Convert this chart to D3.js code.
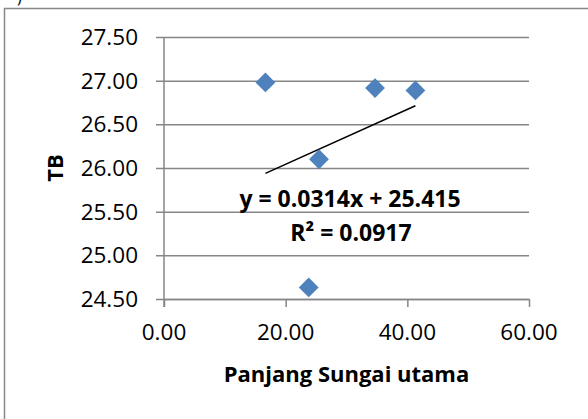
<!DOCTYPE html>
<html>
<head>
<meta charset="utf-8">
<script src="https://cdn.jsdelivr.net/npm/d3@7"></script>
<style>
  body { margin: 0; background: #fff; }
  svg { display: block; font-family: "Open Sans", sans-serif; }
</style>
</head>
<body>
<div id="chart"></div>
<script>

// data
var panjang = [16.67, 25.48, 34.69, 41.33, 23.79];
var tb      = [26.98, 26.10, 26.915, 26.888, 24.633];

var xTicks = [0, 20, 40, 60];
var yTicks = [24.5, 25.0, 25.5, 26.0, 26.5, 27.0, 27.5];

// trendline from excel
var slope = 0.0314, intercept = 25.415;
var eqLabel = "y = 0.0314x + 25.415";
var r2Label = "R² = 0.0917";

var W = 588, H = 419;
var margin = {top: 37, right: 59, bottom: 120, left: 164};

var svg = d3.select("#chart")
    .append("svg")
    .attr("width", W)
    .attr("height", H);

// outer frame (right and bottom fall outside the crop)
svg.append("path")
    .attr("d", "M4.5," + H + " V8.5 H" + W)
    .attr("fill", "none")
    .attr("stroke", "#888")
    .attr("stroke-width", 1.5);

// bit of a caption cut off at the top
svg.append("text")
    .attr("x", 17)
    .attr("y", 3)
    .style("font-size", "16px")
    .text(")");

var xScale = d3.scaleLinear()
    .domain([0, 60])
    .range([margin.left, W - margin.right]);

var yScale = d3.scaleLinear()
    .domain([24.5, 27.5])
    .range([H - margin.bottom, margin.top]);

var gridColor = "#868686";

//horizontal gridlines with the tick stub on the left
svg.append("g")
    .attr("transform", "translate(" + margin.left + ",0)")
    .call(d3.axisLeft(yScale)
        .tickValues(yTicks)
        .tickSize(-(xScale.range()[1] - margin.left))
        .tickFormat("")
        .tickSizeOuter(0))
    .call(function(g){
        g.select(".domain").remove();
        g.selectAll("line")
            .attr("x1", -8)
            .attr("stroke", gridColor)
            .attr("stroke-width", 1.5);
    });

// y tick labels
svg.append("g")
    .selectAll("text")
    .data(yTicks)
    .enter()
    .append("text")
    .attr("x", 138)
    .attr("y", function(d){ return yScale(d); })
    .attr("dy", "0.36em")
    .attr("text-anchor", "end")
    .style("font-size", "22.5px")
    .text(function(d){ return d3.format(".2f")(d); });

// x axis
svg.append("g")
    .attr("transform", "translate(0," + yScale(24.5) + ")")
    .call(d3.axisBottom(xScale)
        .tickValues(xTicks)
        .tickSize(8)
        .tickFormat("")
        .tickSizeOuter(0))
    .call(function(g){
        g.select(".domain").attr("stroke", gridColor).attr("stroke-width", 1.5);
        g.selectAll("line").attr("stroke", gridColor).attr("stroke-width", 1.5);
    });

svg.append("g")
    .selectAll("text")
    .data(xTicks)
    .enter()
    .append("text")
    .attr("x", function(d){ return xScale(d); })
    .attr("y", 332)
    .attr("dy", "0.36em")
    .attr("text-anchor", "middle")
    .style("font-size", "22.5px")
    .text(function(d){ return d3.format(".2f")(d); });

// y axis line
svg.append("line")
    .attr("x1", margin.left)
    .attr("x2", margin.left)
    .attr("y1", yScale(27.5))
    .attr("y2", yScale(24.5) + 8)
    .attr("stroke", gridColor)
    .attr("stroke-width", 1.5);

// trendline
var xMin = d3.min(panjang), xMax = d3.max(panjang);
svg.append("line")
    .attr("x1", xScale(xMin))
    .attr("y1", yScale(intercept + slope * xMin))
    .attr("x2", xScale(xMax))
    .attr("y2", yScale(intercept + slope * xMax))
    .attr("stroke", "#000")
    .attr("stroke-width", 1.5);

// markers
svg.append("g")
    .selectAll("path")
    .data(panjang)
    .enter()
    .append("path")
    .attr("d", d3.symbol().type(d3.symbolSquare).size(196))
    .attr("transform", function(d, i){
        return "translate(" + xScale(d) + "," + yScale(tb[i]) + ") rotate(45)";
    })
    .attr("fill", "#4F81BD");

// equation labels
svg.append("text")
    .attr("x", 350)
    .attr("y", 199)
    .attr("dy", "0.36em")
    .attr("text-anchor", "middle")
    .style("font-size", "23px")
    .style("font-weight", "bold")
    .text(eqLabel);

svg.append("text")
    .attr("x", 351)
    .attr("y", 233)
    .attr("dy", "0.36em")
    .attr("text-anchor", "middle")
    .style("font-size", "23px")
    .style("font-weight", "bold")
    .text(r2Label);

// axis titles
svg.append("text")
    .attr("x", (xScale.range()[0] + xScale.range()[1]) / 2)
    .attr("y", 374)
    .attr("dy", "0.36em")
    .attr("text-anchor", "middle")
    .style("font-size", "22px")
    .style("font-weight", "bold")
    .text("Panjang Sungai utama");

svg.append("text")
    .attr("transform", "translate(55,168) rotate(-90)")
    .attr("dy", "0.36em")
    .attr("text-anchor", "middle")
    .style("font-size", "22px")
    .style("font-weight", "bold")
    .text("TB");

</script>
</body>
</html>
